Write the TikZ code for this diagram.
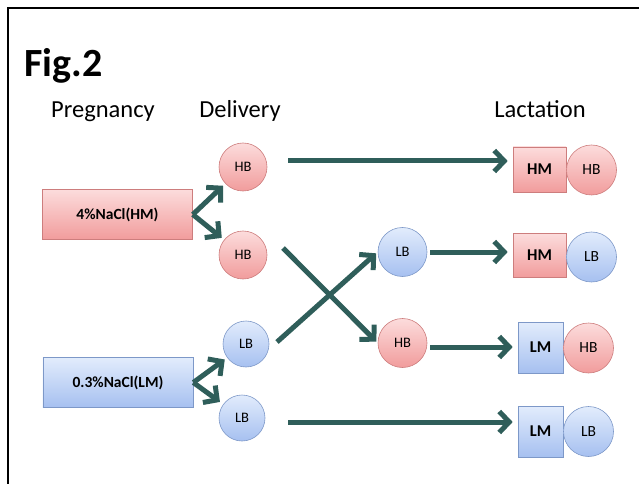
\documentclass[tikz,border=0pt]{standalone}
\usepackage{fontspec}
\setmainfont{Carlito}
\usetikzlibrary{arrows.meta,calc}

\definecolor{teal}{RGB}{47,94,90}
\definecolor{pinkTop}{RGB}{252,220,220}
\definecolor{pinkBot}{RGB}{241,156,156}
\definecolor{pinkLine}{RGB}{205,125,125}
\definecolor{blueTop}{RGB}{226,236,252}
\definecolor{blueBot}{RGB}{166,192,240}
\definecolor{blueLine}{RGB}{125,152,200}

\tikzset{
  pinkfill/.style={draw=pinkLine, line width=0.6bp, top color=pinkTop, bottom color=pinkBot},
  bluefill/.style={draw=blueLine, line width=0.6bp, top color=blueTop, bottom color=blueBot},
  dambox/.style={rectangle, inner sep=0pt, minimum width=150bp, minimum height=50bp, font=\bfseries\fontsize{15.5bp}{15.5bp}\selectfont},
  pup/.style={circle, inner sep=0pt, minimum size=#1bp, font=\fontsize{14.5bp}{14.5bp}\selectfont},
  pup/.default=47,
  milk/.style={rectangle, inner sep=0pt, font=\bfseries\fontsize{16.5bp}{16.5bp}\selectfont},
  ppup/.style={circle, inner sep=0pt, minimum size=50bp, font=\fontsize{15.5bp}{15.5bp}\selectfont},
  arr/.style={draw=teal, line width=5bp, -{Straight Barb[length=10bp,width=21bp,line width=5bp]}},
  head/.style={anchor=base, inner sep=0pt, font=\fontsize{24.5bp}{24.5bp}\selectfont},
}

\begin{document}
\begin{tikzpicture}[x=1bp, y=-1bp]
  \useasboundingbox (0,0) rectangle (639,484);
  % frame
  \draw[line width=2.2bp] (8,484) -- (8,8) -- (639,8);

  % titles
  \node[anchor=base west, inner sep=0pt, font=\bfseries\fontsize{40bp}{40bp}\selectfont] (fig) at (24,77) {Fig.2};
  \node[head] (hpreg) at (103,118) {Pregnancy};
  \node[head] (hdel) at (240,118) {Delivery};
  \node[head] (hlac) at (540,118) {Lactation};

  % dams during pregnancy
  \node[dambox, pinkfill] (dh) at (117.5,214.5) {4\%NaCl(HM)};
  \node[dambox, bluefill] (dl) at (118,382.5) {0.3\%NaCl(LM)};

  % pups at delivery
  \node[pup=48, pinkfill] (b1) at (243,167) {HB};
  \node[pup=48, pinkfill] (b2) at (243,255) {HB};
  \node[pup=46, bluefill] (b3) at (246,344) {LB};
  \node[pup=46, bluefill] (b4) at (242,418) {LB};

  % cross-fostered pups
  \node[pup=49, bluefill] (m1) at (402.5,252) {LB};
  \node[pup=49, pinkfill] (m2) at (402.5,343) {HB};

  % lactation pairs
  \node[milk, pinkfill, minimum width=53bp, minimum height=45bp] (r1) at (539.5,169.5) {HM};
  \node[ppup, pinkfill] (p1) at (591.5,170) {HB};
  \node[milk, pinkfill, minimum width=53bp, minimum height=44bp] (r2) at (539.5,255.5) {HM};
  \node[ppup, bluefill] (p2) at (591.5,257) {LB};
  \node[milk, bluefill, minimum width=45bp, minimum height=51bp] (r3) at (540.5,347.5) {LM};
  \node[ppup, pinkfill] (p3) at (588.5,348) {HB};
  \node[milk, bluefill, minimum width=45bp, minimum height=51bp] (r4) at (540.5,431.5) {LM};
  \node[ppup, bluefill] (p4) at (588.5,431.5) {LB};

  % births
  \draw[arr, shorten >=3bp] (dh.east) -- (b1);
  \draw[arr, shorten >=3bp] (dh.east) -- (b2);
  \draw[arr, shorten >=3bp] (dl.east) -- (b3);
  \draw[arr, shorten >=4bp] (dl.east) -- (b4);

  % nursing and cross-fostering
  \coordinate (s1) at ([shift={(45,-6)}]b1.center);
  \draw[arr, shorten >=5bp] (s1) -- (s1 -| r1.west);

  \coordinate (s2) at ([shift={(40,-7)}]b2.center);
  \draw[arr, shorten >=2bp] (s2) -- (m2.west);

  \coordinate (s3) at ([shift={(31,-2)}]b3.center);
  \draw[arr, shorten >=2bp] (s3) -- (m1.west);

  \coordinate (s4) at ([shift={(3,0)}]m1.east);
  \draw[arr, shorten >=5bp] (s4) -- (s4 -| r2.west);

  \coordinate (s5) at ([shift={(3,4)}]m2.east);
  \draw[arr, shorten >=5bp] (s5) -- (s5 -| r3.west);

  \coordinate (s6) at ([shift={(46,4)}]b4.center);
  \draw[arr, shorten >=5bp] (s6) -- (s6 -| r4.west);
\end{tikzpicture}
\end{document}
